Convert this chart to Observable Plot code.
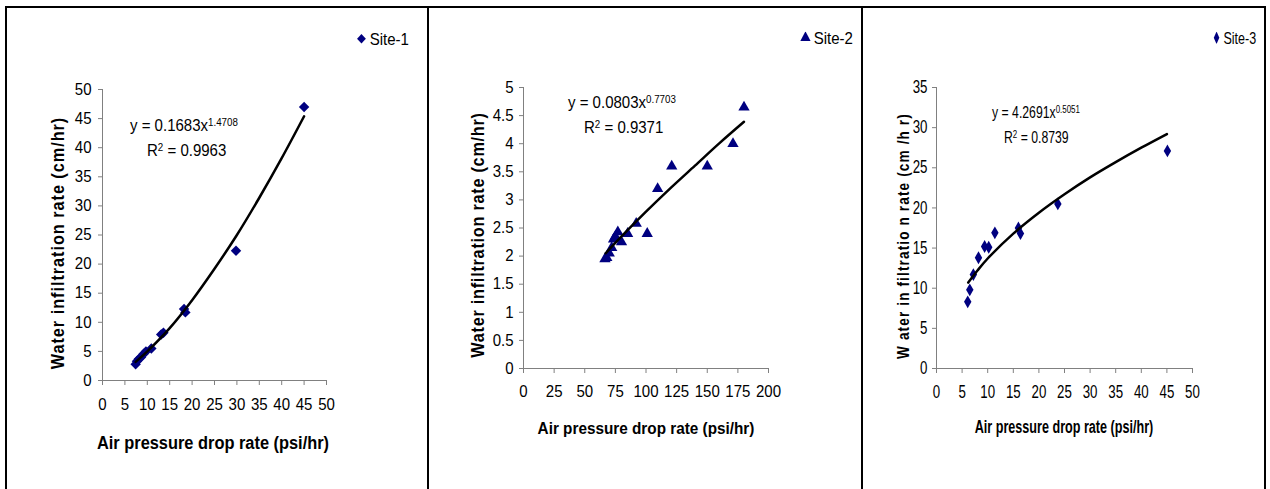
<!DOCTYPE html>
<html><head><meta charset="utf-8">
<script src="https://cdn.jsdelivr.net/npm/d3@7"></script>
<script src="https://cdn.jsdelivr.net/npm/@observablehq/plot@0.6"></script>
<style>
body{margin:0;background:#fff;}
#wrap{position:relative;width:1270px;height:489px;overflow:hidden;font-family:Arial,'Liberation Sans',sans-serif;color:#000;}
.layer{position:absolute;left:0;top:0;}
.ln{position:absolute;background:#000;}
.t{position:absolute;white-space:nowrap;line-height:1;}
.c{transform-origin:center center;}
.l{transform-origin:left center;}
.yt{font-weight:bold;transform-origin:center center;}
.xt{font-weight:bold;}
sup{font-size:0.65em;vertical-align:0.45em;line-height:0;}
.leg{display:flex;align-items:center;gap:3px;}
</style></head>
<body><div id="wrap"></div>
<script>
// ---- data ----
const site1X = [7.4, 7.7, 8.1, 8.6, 9.2, 9.7, 10.9, 13.1, 13.6, 18.2, 18.5, 29.8, 45.0];
const site1Y = [2.8, 3.3, 3.7, 4.0, 4.6, 5.0, 5.5, 7.9, 8.2, 12.3, 11.7, 22.3, 47.0];
const trend1X = [7.4, 10, 15, 20, 25, 30, 35, 40, 45];
const trend1Y = [3.2, 5.0, 9.0, 13.8, 19.2, 25.0, 31.4, 38.2, 45.4];

const site2X = [66.5, 68, 70, 72, 73.5, 75, 77, 80, 85, 92, 101, 109.5, 121, 150, 171, 180];
const site2Y = [1.95, 1.97, 2.05, 2.15, 2.3, 2.35, 2.43, 2.25, 2.4, 2.58, 2.4, 3.2, 3.6, 3.6, 4.0, 4.65];
const trend2X = [67, 80, 100, 120, 140, 160, 180];
const trend2Y = [2.05, 2.35, 2.79, 3.21, 3.61, 4.01, 4.39];

const site3X = [6.1, 6.5, 7.2, 8.2, 9.4, 10.2, 11.4, 16.0, 16.4, 23.7, 45.1];
const site3Y = [8.3, 9.8, 11.7, 13.8, 15.2, 15.1, 16.9, 17.5, 16.8, 20.5, 27.1];
const trend3X = [6.2, 8, 10, 15, 20, 25, 30, 35, 40, 45];
const trend3Y = [10.7, 12.2, 13.7, 16.8, 19.4, 21.7, 23.8, 25.7, 27.5, 29.2];

const xTicks1 = [0, 5, 10, 15, 20, 25, 30, 35, 40, 45, 50];
const yTicks1 = [0, 5, 10, 15, 20, 25, 30, 35, 40, 45, 50];
const xTicks2 = [0, 25, 50, 75, 100, 125, 150, 175, 200];
const yTicks2 = [0, 0.5, 1, 1.5, 2, 2.5, 3, 3.5, 4, 4.5, 5];
const xTicks3 = [0, 5, 10, 15, 20, 25, 30, 35, 40, 45, 50];
const yTicks3 = [0, 5, 10, 15, 20, 25, 30, 35];

const seriesNames = ["Site-1", "Site-2", "Site-3"];
const equations = [["0.1683", "1.4708", "0.9963"], ["0.0803", "0.7703", "0.9371"], ["4.2691", "0.5051", "0.8739"]];
const xTitle = "Air pressure drop rate (psi/hr)";
const yTitle = "Water infiltration rate (cm/hr)";
const yTitle3 = "W ater in filtratio n rate (cm /h r)";

const NAVY = "#000080";
const wrap = document.getElementById("wrap");
const pts = (xs, ys) => xs.map((x, i) => ({x, y: ys[i]}));

function panel(o) {
  const svg = Plot.plot({
    width: 1270, height: 489,
    marginLeft: o.m[0], marginRight: o.m[1], marginTop: o.m[2], marginBottom: o.m[3],
    style: {background: "transparent", fontSize: o.fs + "px", fontFamily: "Arial, 'Liberation Sans', sans-serif", color: "#000", overflow: "visible"},
    x: {domain: [0, o.xt[o.xt.length - 1]]},
    y: {domain: [0, o.yt[o.yt.length - 1]]},
    marks: [
      Plot.axisX({ticks: o.xt, tickFormat: d => String(d), tickSize: 5, tickPadding: o.xpad, stroke: "#808080", label: null}),
      Plot.axisY({ticks: o.yt, tickFormat: d => String(d), tickSize: 4, tickPadding: o.ypad, stroke: "#808080", label: null}),
      Plot.ruleX([0], {stroke: "#808080"}),
      Plot.ruleY([0], {stroke: "#808080"}),
      Plot.dot(pts(o.dx, o.dy), {x: "x", y: "y", symbol: () => o.sym, r: o.r, fill: NAVY, stroke: "none"}),
      Plot.line(pts(o.tx, o.ty), {x: "x", y: "y", stroke: "#000", strokeWidth: 2.5, curve: "catmull-rom"})
    ]
  });
  svg.classList.add("layer");
  wrap.appendChild(svg);
  // horizontally condense tick labels (the reference text is narrower than it is tall)
  svg.querySelectorAll('g[aria-label$="tick label"] text').forEach(t => {
    const L = t.getComputedTextLength();
    if (L > 0) {
      t.setAttribute("textLength", (L * o.sx).toFixed(2));
      t.setAttribute("lengthAdjust", "spacingAndGlyphs");
    }
  });
}

panel({m: [102, 944, 89, 109], xt: xTicks1, yt: yTicks1, dx: site1X, dy: site1Y, tx: trend1X, ty: trend1Y,
  sym: "diamond2", r: 4.7, fs: 16.5, sx: 0.91, xpad: 13, ypad: 7});
panel({m: [523, 502, 87, 121], xt: xTicks2, yt: yTicks2, dx: site2X, dy: site2Y, tx: trend2X, ty: trend2Y,
  sym: "triangle", r: 4.2, fs: 16.5, sx: 0.91, xpad: 12, ypad: 6});
panel({m: [936, 78, 87, 121], xt: xTicks3, yt: yTicks3, dx: site3X, dy: site3Y, tx: trend3X, ty: trend3Y,
  sym: "diamond", r: 3.9, fs: 17.5, sx: 0.76, xpad: 12, ypad: 5});

// frame lines
function ln(l, t, w, h) { const d = document.createElement("div"); d.className = "ln"; Object.assign(d.style, {left: l + "px", top: t + "px", width: w + "px", height: h + "px"}); wrap.appendChild(d); }
ln(5, 6, 1261, 2); ln(5, 6, 2, 490); ln(427, 6, 2, 490); ln(861, 6, 2, 490); ln(1264, 6, 2, 490);

function txt(html, cls, l, t, fs, tf, extra) {
  const d = document.createElement("div"); d.className = "t " + cls; d.innerHTML = html;
  Object.assign(d.style, {left: l + "px", top: t + "px", fontSize: fs + "px", transform: tf}, extra || {});
  wrap.appendChild(d); return d;
}
const leftTf = sx => `translateY(-50%) scale(${sx},1)`;
const centerTf = sx => `translate(-50%,-50%) scale(${sx},1)`;
const rotTf = sx => `translate(-50%,-50%) rotate(-90deg) scale(${sx},1)`;

function legend(name, sym, size, l, t, fs, sx) {
  const path = d3.symbol(sym, size)();
  txt(`<svg width="12" height="12" viewBox="-6 -6 12 12"><path d="${path}" fill="${NAVY}"/></svg><span>${name}</span>`,
    "l leg", l, t, fs, leftTf(sx));
}
legend(seriesNames[0], d3.symbolDiamond2, 60, 356, 39, 16.5, 0.91);
legend(seriesNames[1], d3.symbolTriangle, 55, 800, 38, 16.5, 0.91);
legend(seriesNames[2], d3.symbolDiamond, 46, 1212, 38, 16.5, 0.76);

// equations
const eqPos = [[130, 125, 147, 150, 16.5, 0.91], [568, 102, 584, 127, 16.5, 0.91], [992, 112, 1004, 137, 17, 0.72]];
equations.forEach((e, i) => {
  const [x1, y1, x2, y2, fs, sx] = eqPos[i];
  txt(`y = ${e[0]}x<sup>${e[1]}</sup>`, "l", x1, y1, fs, leftTf(sx));
  txt(`R<sup>2</sup> = ${e[2]}`, "l", x2, y2, fs, leftTf(sx));
});

// axis titles
txt(xTitle, "c xt", 213, 443, 18, centerTf(0.91));
txt(xTitle, "c xt", 646, 428, 17, centerTf(0.9));
txt(xTitle, "c xt", 1064, 428, 17.5, centerTf(0.72));
txt(yTitle, "yt", 58, 243, 18, rotTf(0.9), {letterSpacing: "1.1px"});
txt(yTitle, "yt", 478, 235, 18, rotTf(0.9), {letterSpacing: "0.85px"});
txt(yTitle3, "yt", 903, 236, 17, rotTf(0.8), {letterSpacing: "1.4px"});
</script></body></html>
